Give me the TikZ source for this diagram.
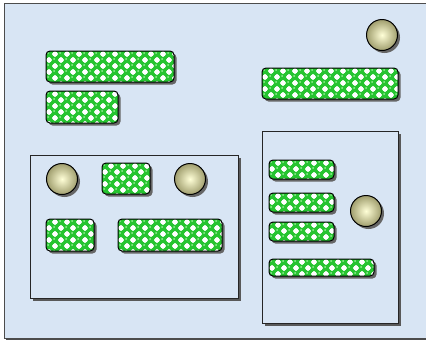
\documentclass[tikz,border=0pt]{standalone}
\usetikzlibrary{shadows,calc}

\definecolor{paneblue}{RGB}{216,229,244}
\definecolor{checkgreen}{RGB}{38,196,48}
\definecolor{dotgreen}{RGB}{150,238,150}
\definecolor{ballin}{RGB}{255,255,215}
\definecolor{ballout}{RGB}{160,158,110}

\begin{document}
\begin{tikzpicture}[
  x=1pt, y=-1pt,
  pane/.style={draw=black!70, line width=1pt, fill=paneblue, anchor=north west,
               inner sep=0pt, drop shadow={shadow xshift=1.5pt, shadow yshift=-1.5pt,
               opacity=1, fill=black!70}},
  group/.style={draw=black!85, line width=0.8pt, fill=paneblue, inner sep=0pt,
                drop shadow={shadow xshift=3pt, shadow yshift=-3pt, opacity=1,
                fill=black!65}},
  checks/.style={path picture={
      \coordinate (nw) at (path picture bounding box.north west);
      \fill[checkgreen] (path picture bounding box.south west)
        rectangle (path picture bounding box.north east);
      \foreach \i in {0,...,23}
        \foreach \j in {0,...,5} {
          \ifodd\numexpr\i+\j\relax
            \fill[white] ($(nw)+(\i*6,\j*6)$) rectangle ++(6,6);
          \else
            \fill[checkgreen] ($(nw)+(\i*6+3,\j*6+3)$) circle (3.1pt);
            \fill[dotgreen] ($(nw)+(\i*6+2.2,\j*6+2)$) circle (1pt);
          \fi
        }
    }},
  bar/.style={draw=black, line width=1pt, rounded corners=4pt, inner sep=0pt,
              checks,
              drop shadow={shadow xshift=2.5pt, shadow yshift=-2.5pt, opacity=1,
              fill=black!60}},
  ball/.style={circle, draw=black, line width=1pt, minimum size=31pt, inner sep=0pt,
               shading=radial, inner color=ballin, outer color=ballout,
               drop shadow={shadow xshift=2.5pt, shadow yshift=-2.5pt, opacity=1,
               fill=black!60}},
]
\useasboundingbox (0,0) rectangle (426,341);
\node[pane, minimum width=440pt, minimum height=335pt] (frame) at (4,3) {};

% top row
\node[bar, minimum width=128pt, minimum height=31pt] (topwide) at (110,66.5) {};
\node[bar, minimum width=72pt, minimum height=32pt] (topshort) at (82,107) {};
\node[ball] (topball) at (382,35) {};
\node[bar, minimum width=136pt, minimum height=31pt] (topright) at (330,83.5) {};

% left group
\node[group, minimum width=208pt, minimum height=143pt] (leftgroup) at (134,226.5) {};
\node[ball] (leftballa) at (62,179) {};
\node[bar, minimum width=48pt, minimum height=31pt] (leftsmall) at (126,178.5) {};
\node[ball] (leftballb) at (190,179) {};
\node[bar, minimum width=48pt, minimum height=32pt] (leftlow) at (70,235) {};
\node[bar, minimum width=104pt, minimum height=32pt] (leftwide) at (170,235) {};

% right group
\node[group, minimum width=136pt, minimum height=192pt] (rightgroup) at (330,227) {};
\foreach \n/\y in {a/169.5, b/202.5, c/231.5}
  \node[bar, minimum width=65pt, minimum height=19pt] (right\n) at (301.5,\y) {};
\node[bar, minimum width=105pt, minimum height=17pt] (rightd) at (321.5,267.5) {};
\node[ball] (rightball) at (366,211) {};
\end{tikzpicture}
\end{document}
